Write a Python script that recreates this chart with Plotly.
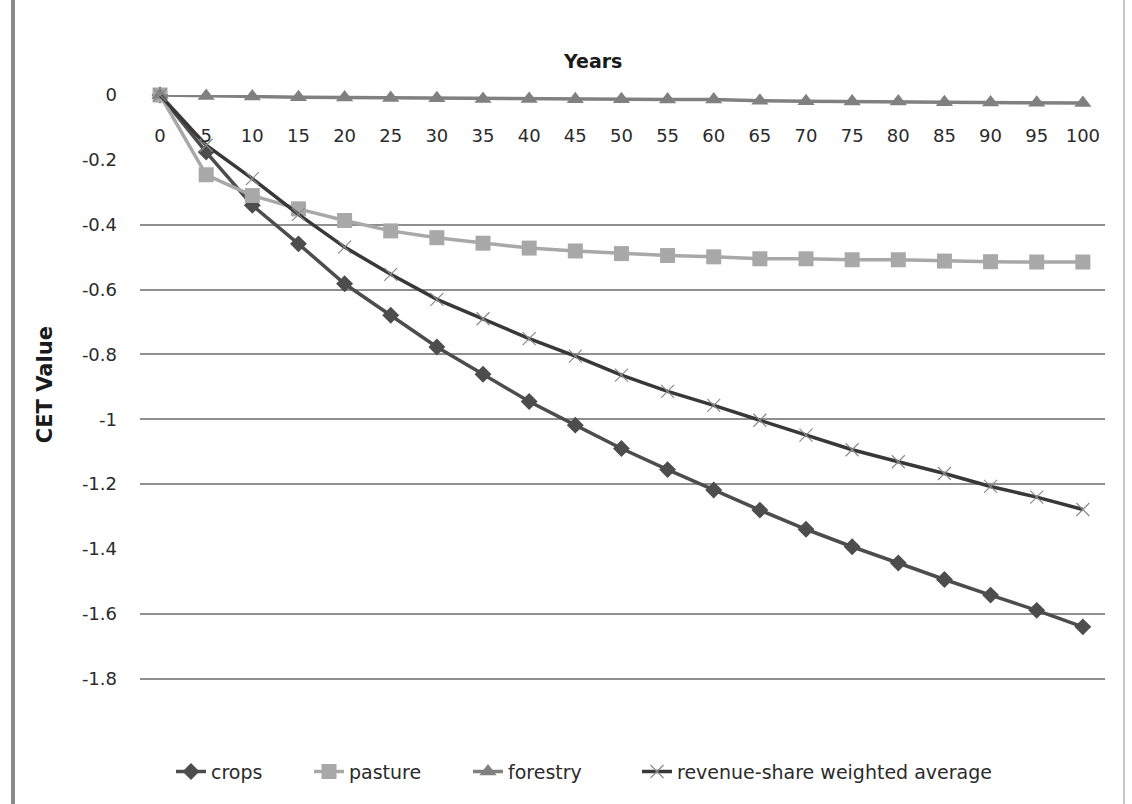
import plotly.graph_objects as go

# Years since the start of the projection
years = [0, 5, 10, 15, 20, 25, 30, 35, 40, 45, 50, 55, 60, 65, 70, 75, 80, 85, 90, 95, 100]
year_labels = [str(y) for y in years]

# CET values per land use
crops = [0, -0.176, -0.34, -0.459, -0.582, -0.679, -0.777, -0.861, -0.945, -1.018, -1.09,
         -1.155, -1.218, -1.28, -1.339, -1.393, -1.443, -1.494, -1.542, -1.589, -1.64]
pasture = [0, -0.246, -0.31, -0.351, -0.387, -0.419, -0.44, -0.457, -0.472, -0.481, -0.489,
           -0.495, -0.499, -0.505, -0.505, -0.508, -0.508, -0.512, -0.514, -0.515, -0.515]
forestry = [0, -0.003, -0.005, -0.007, -0.008, -0.009, -0.01, -0.012, -0.012, -0.013, -0.013,
            -0.014, -0.014, -0.018, -0.019, -0.02, -0.02, -0.022, -0.023, -0.024, -0.025]
weighted_avg = [0, -0.155, -0.258, -0.368, -0.469, -0.553, -0.63, -0.69, -0.751, -0.805, -0.864,
                -0.914, -0.957, -1.003, -1.049, -1.094, -1.131, -1.167, -1.207, -1.24, -1.278]

y_ticks = [0, -0.2, -0.4, -0.6, -0.8, -1.0, -1.2, -1.4, -1.6, -1.8]
y_tick_text = ["0", "-0.2", "-0.4", "-0.6", "-0.8", "-1", "-1.2", "-1.4", "-1.6", "-1.8"]
grid_values = [-0.4, -0.6, -0.8, -1.0, -1.2, -1.6, -1.8]

FONT = "DejaVu Sans"
TXT = "#2b2b2b"

# plot box in pixels
TOP, BOTTOM = 94.5, 682.2
LEFT, RIGHT = 140, 1105
Y_MIN = -1.81

fig = go.Figure()

fig.add_trace(go.Scatter(
    x=years, y=crops, name="crops", mode="lines+markers",
    line=dict(color="#4d4d4d", width=3.5),
    marker=dict(symbol="diamond", size=13, color="#4d4d4d"),
    cliponaxis=False, legend="legend",
))
fig.add_trace(go.Scatter(
    x=years, y=pasture, name="pasture", mode="lines+markers",
    line=dict(color="#a8a8a8", width=3.5),
    marker=dict(symbol="square", size=15, color="#a8a8a8"),
    cliponaxis=False, legend="legend2",
))
fig.add_trace(go.Scatter(
    x=years, y=forestry, name="forestry", mode="lines+markers",
    line=dict(color="#808080", width=3.5),
    marker=dict(symbol="triangle-up", size=15, color="#808080"),
    cliponaxis=False, legend="legend3",
))
fig.add_trace(go.Scatter(
    x=years, y=weighted_avg, name="revenue-share weighted average", mode="lines+markers",
    line=dict(color="#383838", width=3.5),
    marker=dict(symbol="x-thin-open", size=13, color="#8a8a8a", line=dict(color="#8a8a8a", width=1.2)),
    cliponaxis=False, legend="legend4",
))

# horizontal gridlines on an overlaid axis carrying no labels
fig.add_trace(go.Scatter(x=[None], y=[None], yaxis="y2", showlegend=False, hoverinfo="skip"))


def lx(px):
    return (px - LEFT) / (RIGHT - LEFT)


def ly(py):
    return (BOTTOM - py) / (BOTTOM - TOP)


legend_common = dict(
    orientation="h", yanchor="middle", xanchor="left", y=ly(772),
    bgcolor="rgba(0,0,0,0)", font=dict(family=FONT, size=19, color=TXT),
    itemclick=False,
)

fig.update_layout(
    width=1132, height=804,
    margin=dict(l=LEFT, r=1132 - RIGHT, t=TOP, b=804 - BOTTOM),
    paper_bgcolor="white", plot_bgcolor="white",
    font=dict(family=FONT, size=18, color=TXT),
    xaxis=dict(
        range=[-2.17, 102.4], tickvals=years, ticktext=year_labels,
        anchor="free", position=1, side="bottom",
        showgrid=False, zeroline=False, showline=False, ticks="",
        ticklabelstandoff=28, tickfont=dict(family=FONT, size=18, color=TXT),
    ),
    yaxis=dict(
        range=[Y_MIN, 0], tickvals=y_ticks, ticktext=y_tick_text,
        showgrid=False, zeroline=False, showline=False, ticks="",
        ticklabelstandoff=22, tickfont=dict(family=FONT, size=18, color=TXT),
    ),
    yaxis2=dict(
        range=[Y_MIN, 0], overlaying="y", tickvals=grid_values, showticklabels=False,
        showgrid=True, gridcolor="#8f8f8f", gridwidth=2, zeroline=False, showline=False,
        ticks="", layer="below traces",
    ),
    legend=dict(x=lx(171), **legend_common),
    legend2=dict(x=lx(309), **legend_common),
    legend3=dict(x=lx(468), **legend_common),
    legend4=dict(x=lx(637), **legend_common),
    annotations=[
        dict(text="<b>Years</b>", x=lx(592), y=ly(60), xref="paper", yref="paper",
             showarrow=False, font=dict(family=FONT, size=19, color="#1a1a1a"),
             xanchor="center", yanchor="middle"),
        dict(text="<b>CET Value</b>", x=lx(45), y=ly(385), xref="paper", yref="paper",
             showarrow=False, textangle=-90, font=dict(family=FONT, size=21, color="#1a1a1a"),
             xanchor="center", yanchor="middle"),
    ],
    shapes=[
        dict(type="line", xref="paper", yref="paper", x0=lx(13), x1=lx(13),
             y0=ly(810), y1=ly(-6), line=dict(color="#8a8a8a", width=4)),
        dict(type="line", xref="paper", yref="paper", x0=lx(1124), x1=lx(1124),
             y0=ly(810), y1=ly(-6), line=dict(color="#c8c8c8", width=2)),
    ],
    showlegend=True,
)

fig.write_html("out.html")
